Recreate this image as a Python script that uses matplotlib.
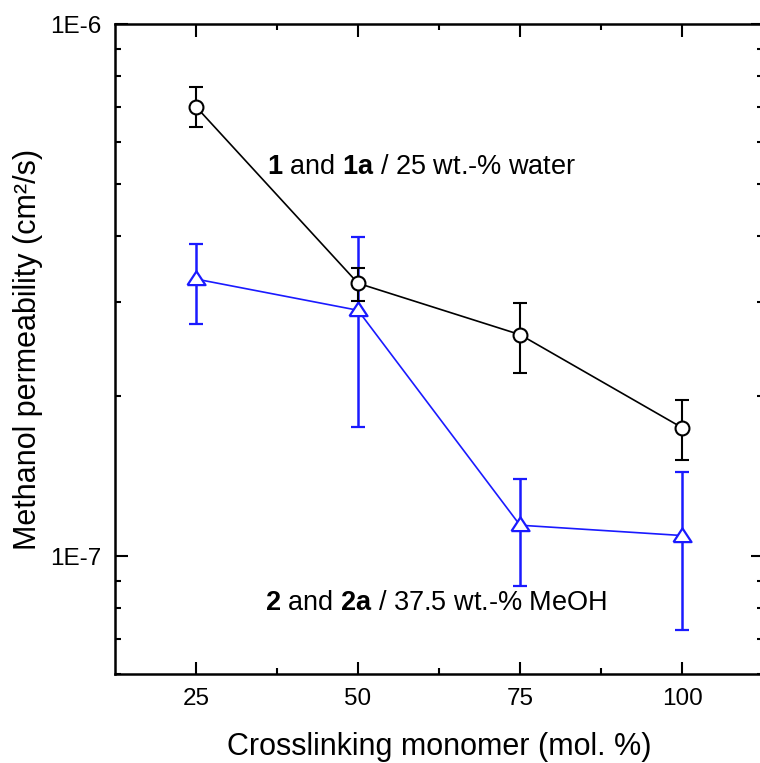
import numpy as np
import matplotlib
matplotlib.use("Agg")
import matplotlib.pyplot as plt
from matplotlib.ticker import FixedLocator, LogLocator, NullFormatter, FuncFormatter

plt.rcParams['font.family'] = ['Liberation Sans', 'DejaVu Sans']
plt.rcParams['mathtext.fontset'] = 'custom'
plt.rcParams['mathtext.rm'] = 'Liberation Sans'
plt.rcParams['mathtext.bf'] = 'Liberation Sans:bold'

# crosslinking monomer content (mol. %)
crosslinker = [25, 50, 75, 100]

# 1 and 1a / 25 wt.-% water
perm_water = [7.00e-7, 3.26e-7, 2.61e-7, 1.745e-7]
water_hi = [7.61e-7, 3.49e-7, 2.99e-7, 1.967e-7]
water_lo = [6.42e-7, 3.02e-7, 2.21e-7, 1.517e-7]

# 2 and 2a / 37.5 wt.-% MeOH
perm_meoh = [3.32e-7, 2.90e-7, 1.144e-7, 1.094e-7]
meoh_hi = [3.86e-7, 3.99e-7, 1.396e-7, 1.44e-7]
meoh_lo = [2.73e-7, 1.753e-7, 8.79e-8, 7.27e-8]

label_water = r"$\mathbf{1}$ and $\mathbf{1a}$ / 25 wt.-% water"
label_meoh = r"$\mathbf{2}$ and $\mathbf{2a}$ / 37.5 wt.-% MeOH"

fig = plt.figure(figsize=(7.6, 7.63), dpi=100)
# right spine sits just outside the picture, like the original crop
ax = fig.add_axes([115 / 760, (763 - 674.3) / 763, (763 - 115) / 760, (674.3 - 24.3) / 763])

w = np.array(perm_water)
m = np.array(perm_meoh)
ax.errorbar(crosslinker, w, yerr=[w - np.array(water_lo), np.array(water_hi) - w],
            color='black', lw=1.2, elinewidth=1.5, capsize=5, capthick=1.5,
            marker='o', ms=10, mfc='white', mec='black', mew=1.5, zorder=3)
tri = [(-1, -0.62), (1, -0.62), (0, 0.9), (-1, -0.62)]
ax.errorbar(crosslinker, m, yerr=[m - np.array(meoh_lo), np.array(meoh_hi) - m],
            color='#1a1aff', lw=1.2, elinewidth=1.8, capsize=5, capthick=1.8,
            marker=tri, ms=13, mfc='white', mec='#1a1aff', mew=1.6, zorder=2)

ax.set_yscale('log')
ax.set_xlim(12.5, 112.5)
ax.set_ylim(6e-8, 1e-6)

ax.xaxis.set_major_locator(FixedLocator([25, 50, 75, 100]))
ax.xaxis.set_minor_locator(FixedLocator([37.5, 62.5, 87.5]))
ax.yaxis.set_major_locator(FixedLocator([1e-7, 1e-6]))
ax.yaxis.set_minor_locator(LogLocator(base=10, subs=np.arange(2, 10)))
ax.yaxis.set_major_formatter(FuncFormatter(lambda v, p: "1E%d" % round(np.log10(v))))
ax.yaxis.set_minor_formatter(NullFormatter())

ax.tick_params(which='both', direction='in', top=True, right=True, width=1.5)
ax.tick_params(which='major', length=9, labelsize=17.5)
ax.tick_params(axis='x', which='major', pad=10)
ax.tick_params(axis='y', which='major', pad=10)
ax.tick_params(which='minor', length=4.5)
for s in ax.spines.values():
    s.set_linewidth(1.8)

ax.set_xlabel("Crosslinking monomer (mol. %)", fontsize=22, labelpad=16)
ax.set_ylabel("Methanol permeability (cm²/s)", fontsize=22, labelpad=5)

ax.text(0.2345, 0.781, label_water, transform=ax.transAxes,
        fontsize=19.5, ha='left', va='center')
ax.text(0.231, 0.11, label_meoh, transform=ax.transAxes,
        fontsize=19.5, ha='left', va='center')

fig.savefig("out.png", dpi=100)
